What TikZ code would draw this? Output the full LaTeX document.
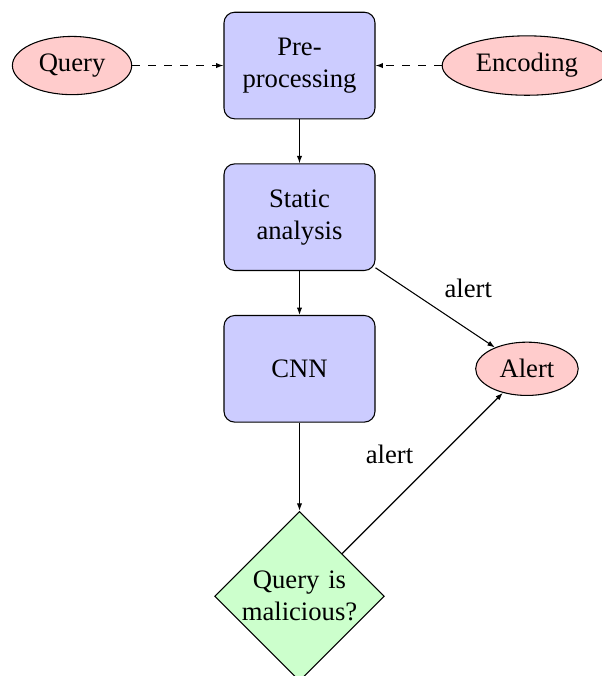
\documentclass[tikz,border=0pt]{standalone}
\usepackage{fontspec}
\setmainfont{Liberation Serif}
\usepackage{tikz}
\usetikzlibrary{arrows.meta,positioning,shapes.geometric}

\begin{document}
\begin{tikzpicture}[
  node distance=2cm and 3cm, on grid,
  block/.style={rectangle, draw, fill=blue!20, text width=5em, align=center, rounded corners, minimum height=4em},
  cloud/.style={ellipse, draw, fill=red!20, minimum height=2em},
  decision/.style={diamond, draw, fill=green!20, text width=4.5em, align=center, inner sep=0pt},
  line/.style={-{Latex[length=2.8pt,width=2pt]}}
]
\useasboundingbox (-112.4pt,24.6pt) rectangle (113.5pt,-229.1pt);
\node[block] (pre) {Pre-\\processing};
\node[block, below=of pre] (static) {Static\\analysis};
\node[block, below=of static] (cnn) {CNN};
\node[decision, below=3cm of cnn] (decide) {Query is\\malicious?};
\node[cloud, left=of pre] (query) {Query};
\node[cloud, right=of pre] (encoding) {Encoding};
\node[cloud, right=of cnn] (alert) {Alert};
\draw[line, dashed] (query) -- (pre);
\draw[line, dashed] (encoding) -- (pre);
\draw[line] (pre) -- (static);
\draw[line] (static) -- (cnn);
\draw[line] (cnn) -- (decide);
\draw[line] (static) -- node[above right] {alert} (alert);
\draw[line] (decide) -- node[above left] {alert} (alert);
\end{tikzpicture}
\end{document}
